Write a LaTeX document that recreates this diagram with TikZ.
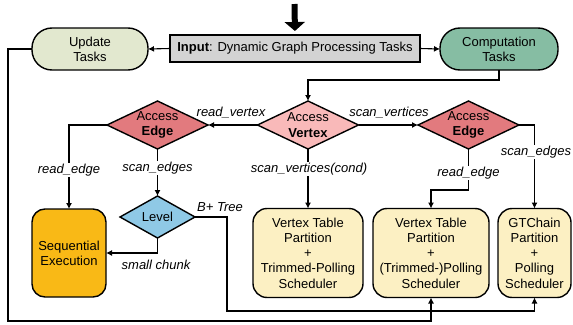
\documentclass[tikz,border=0pt]{standalone}
\usepackage{fontspec}
\setmainfont{Liberation Sans}
\usetikzlibrary{shapes.geometric,arrows.meta}
\definecolor{updfill}{HTML}{E2E8CF}
\definecolor{compfill}{HTML}{86BDA3}
\definecolor{infill}{HTML}{D3D3D3}
\definecolor{avfill}{HTML}{F9B9B9}
\definecolor{aefill}{HTML}{E27A7E}
\definecolor{lvlfill}{HTML}{8FC9E6}
\definecolor{seqfill}{HTML}{F9B916}
\definecolor{partfill}{HTML}{FCF0C3}
\begin{document}
\begin{tikzpicture}[x=1pt,y=-1pt,font=\fontsize{13}{15.2}\selectfont]
\tikzset{
 base/.style={draw=black, line width=1.4pt, inner sep=0pt, outer sep=0pt, align=center},
 pill/.style={base, rounded corners=20pt, minimum height=42pt},
 partbox/.style={base, rounded corners=14pt, minimum height=89pt, fill=partfill},
 dia/.style={base, diamond, minimum width=101pt, minimum height=48pt},
 txt/.style={inner sep=0pt, align=center},
 lbl/.style={font=\fontsize{13}{15.2}\selectfont\itshape, inner sep=1pt, fill=white},
 conn/.style={line width=1.1pt},
 arr/.style={conn, -{Latex[length=6pt,width=6pt]}},
}
\useasboundingbox (0,0) rectangle (573,324);

% top nodes
\node[base, fill=infill, line width=2pt, minimum width=250pt, minimum height=27pt] (in) at (295,48.5) {\textbf{Input}: Dynamic Graph Processing Tasks};
\node[pill, fill=updfill, minimum width=116pt] (upd) at (90,49) {Update\\Tasks};
\node[pill, fill=compfill, minimum width=118pt] (comp) at (499,49) {Computation\\Tasks};

\coordinate (topa) at (294.5,4);
\draw[line width=6pt, -{Triangle[width=20pt,length=9pt]}, shorten >=4pt] (topa) -- (in.north);

% diamonds
\node[dia, fill=avfill] (av) at (308,125) {};
\node[txt] (avt) at (av) {Access\\\textbf{Vertex}};
\node[dia, fill=aefill] (ae1) at (157.5,125) {};
\node[txt] (ae1t) at (ae1) {Access\\\textbf{Edge}};
\node[dia, fill=aefill] (ae2) at (468.5,125) {};
\node[txt] (ae2t) at (ae2) {Access\\\textbf{Edge}};
\node[base, diamond, fill=lvlfill, minimum width=75pt, minimum height=42pt] (lvl) at (157.5,217) {};
\node[txt] (lvlt) at (lvl) {Level};

% bottom boxes
\node[base, fill=seqfill, rounded corners=13pt, minimum width=74pt, minimum height=88pt] (seq) at (69,253) {Sequential\\Execution};
\node[partbox, minimum width=110pt] (b1) at (308,253) {Vertex Table\\Partition\\+\\Trimmed-Polling\\Scheduler};
\node[partbox, minimum width=116pt] (b2) at (431,253) {Vertex Table\\Partition\\+\\(Trimmed-)Polling\\Scheduler};
\node[partbox, minimum width=73pt] (b3) at (534.5,253) {GTChain\\Partition\\+\\Polling\\Scheduler};

% connectors
\draw[arr] (in.west) -- (upd.east);
\draw[arr] (in.east) -- (comp.west);
\draw[arr] (comp.south) -- ++(0,10) -| (av.north);
\draw[arr] (av.west) -- (ae1.east);
\draw[arr] (av.east) -- (ae2.west);
\draw[arr] (av.south) -- (b1.north);
\draw[arr] (ae1.west) -| (seq.north);
\draw[arr] (ae1.south) -- (lvl.north);
\draw[arr] (lvl.south) |- (seq.east);
\draw[arr] (ae2.south) -- ++(0,41) -| (b2.north);
\draw[arr] (ae2.east) -| (b3.north);
\draw[arr] (lvl.east) -| (227,311) -| (b3.south);
\draw[arr] (upd.west) -| (8,321) -| (b2.south);

% labels
\node[lbl, fill=none] (lrv) at (231,113) {read\_vertex};
\node[lbl, fill=none] (lsv) at (389,113) {scan\_vertices};
\node[lbl] (lre1) at (69,170) {read\_edge};
\node[lbl] (lse1) at (157.5,168) {scan\_edges};
\node[lbl] (lsvc) at (309,169) {scan\_vertices(cond)};
\node[lbl] (lre2) at (468.5,173) {read\_edge};
\node[lbl] (lse2) at (536,152) {scan\_edges};
\node[lbl, fill=none] (lbt) at (220,207) {B+ Tree};
\node[lbl, fill=none] (lsc) at (156,265) {small chunk};
\end{tikzpicture}
\end{document}
